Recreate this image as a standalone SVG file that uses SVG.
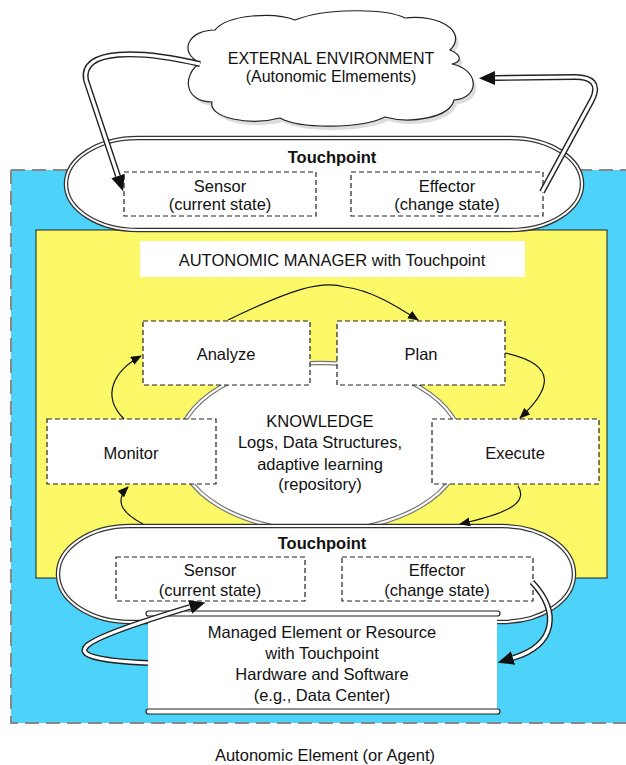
<svg xmlns="http://www.w3.org/2000/svg" width="626" height="765" viewBox="0 0 626 765">
<style>
text{font-family:"Liberation Sans",Arial,sans-serif;font-size:16.5px;fill:#111;text-anchor:middle}
.b{font-weight:bold}
.c{font-size:16px}
.dash{fill:#fff;stroke:#222;stroke-width:1.2;stroke-dasharray:5 3}
.outerL{fill:#fff;stroke:#333;stroke-width:4.5}
.innerL{fill:none;stroke:#fff;stroke-width:2}
.outerK{fill:#fff;stroke:#777;stroke-width:4.5}
.pipeO{fill:none;stroke:#222;stroke-width:6}
.pipeI{fill:none;stroke:#fff;stroke-width:3.2}
.thin{fill:none;stroke:#111;stroke-width:1.2}
.bar{fill:#fff;stroke:#222;stroke-width:1.2}
</style>
<defs>
<marker id="big" markerUnits="userSpaceOnUse" markerWidth="16" markerHeight="14" refX="0" refY="7" orient="auto"><path d="M0,0 L16,7 L0,14 z" fill="#111"/></marker>
<marker id="sm" markerUnits="userSpaceOnUse" markerWidth="11" markerHeight="9" refX="10" refY="4.5" orient="auto"><path d="M0,0 L11,4.5 L0,9 z" fill="#111"/></marker>
<path id="cloudShape" d="M200,63 C178,52 188,30 215,30 C228,14 275,12 295,20 C325,8 385,8 405,18 C440,14 468,32 450,50 C462,55 462,62 452,64 C480,70 480,98 454,100 C450,118 410,124 385,117 C360,129 300,129 280,118 C250,126 208,118 212,102 C184,102 182,75 200,63 Z"/>
</defs>

<g id="background">
<rect x="11" y="170" width="630" height="553" fill="#4dd3fa"/>
<path d="M11,170 H640 M11,170 V723 H640" fill="none" stroke="#888" stroke-width="2" stroke-dasharray="14 7"/>
</g>

<g id="autonomic-manager">
<rect x="36" y="230" width="571" height="348" fill="#fbf968" stroke="#222" stroke-width="1"/>
<rect x="140" y="241" width="385" height="36" fill="#fff"/>
<text x="332" y="266">AUTONOMIC MANAGER with Touchpoint</text>
</g>

<g id="knowledge">
<ellipse cx="320" cy="447" rx="142" ry="84" class="outerK"/>
<ellipse cx="320" cy="447" rx="142" ry="84" class="innerL"/>
<text x="320" y="427">KNOWLEDGE</text>
<text x="320" y="448">Logs, Data Structures,</text>
<text x="320" y="470">adaptive learning</text>
<text x="320" y="490">(repository)</text>
</g>

<g id="analyze"><rect x="143" y="321" width="167" height="64" class="dash"/><text x="226" y="360">Analyze</text></g>
<g id="plan"><rect x="337" y="321" width="168" height="64" class="dash"/><text x="421" y="360">Plan</text></g>
<g id="monitor"><rect x="47" y="419" width="169" height="65" class="dash"/><text x="131" y="459">Monitor</text></g>
<g id="execute"><rect x="432" y="419" width="167" height="65" class="dash"/><text x="515" y="459">Execute</text></g>

<g id="cloud">
<use href="#cloudShape" fill="#bbb" opacity="0.5" transform="translate(3,4)"/>
<use href="#cloudShape" fill="#fff" stroke="#222" stroke-width="1.2"/>
<text class="c" x="331" y="64">EXTERNAL ENVIRONMENT</text>
<text class="c" x="331" y="82">(Autonomic Elmements)</text>
</g>

<g id="touchpoint-top">
<rect x="66" y="138" width="516" height="92" rx="72" ry="46" class="outerL"/>
<rect x="66" y="138" width="516" height="92" rx="72" ry="46" class="innerL"/>
<text class="b" x="332" y="163">Touchpoint</text>
</g>
<g id="sensor-top"><rect x="124" y="172" width="192" height="44" class="dash"/><text x="220" y="192">Sensor</text><text x="220" y="210">(current state)</text></g>
<g id="effector-top"><rect x="351" y="172" width="192" height="44" class="dash"/><text x="447" y="192">Effector</text><text x="447" y="210">(change state)</text></g>

<g id="touchpoint-bottom">
<rect x="58" y="526" width="516" height="96" rx="72" ry="48" class="outerL"/>
<rect x="58" y="526" width="516" height="96" rx="72" ry="48" class="innerL"/>
<text class="b" x="322" y="549">Touchpoint</text>
</g>
<g id="sensor-bottom"><rect x="116" y="557" width="189" height="44" class="dash"/><text x="210" y="576">Sensor</text><text x="210" y="596">(current state)</text></g>
<g id="effector-bottom"><rect x="342" y="557" width="191" height="44" class="dash"/><text x="437" y="576">Effector</text><text x="437" y="596">(change state)</text></g>

<g id="managed-element">
<rect x="148" y="614" width="349" height="97" fill="#fff"/>
<rect x="146" y="611" width="354" height="5" rx="2.5" class="bar"/>
<rect x="146" y="709" width="354" height="5" rx="2.5" class="bar"/>
<text x="322" y="638">Managed Element or Resource</text>
<text x="322" y="659">with Touchpoint</text>
<text x="322" y="680">Hardware and Software</text>
<text x="322" y="701">(e.g., Data Center)</text>
</g>

<g id="caption"><text x="325" y="761">Autonomic Element (or Agent)</text></g>

<g id="connectors">
<path class="pipeO" marker-end="url(#big)" d="M200,64 C140,50 80,48 86,80 L118,176"/>
<path class="pipeI" d="M200,64 C140,50 80,48 86,80 L118,176"/>
<path class="pipeO" marker-end="url(#big)" d="M542,192 L592,100 C600,84 592,77 575,77 L495,78"/>
<path class="pipeI" d="M542,192 L592,100 C600,84 592,77 575,77 L495,78"/>
<path class="pipeO" marker-end="url(#big)" d="M148,663 C40,658 80,640 190,607"/>
<path class="pipeI" d="M148,663 C40,658 80,640 190,607"/>
<path class="pipeO" marker-end="url(#big)" d="M532,582 C560,612 556,645 513,658"/>
<path class="pipeI" d="M532,582 C560,612 556,645 513,658"/>
<path class="thin" marker-end="url(#sm)" d="M228,320 C290,290 320,280 345,287 C370,290 395,305 418,320"/>
<path class="thin" marker-end="url(#sm)" d="M505,353 C560,365 550,390 520,418"/>
<path class="thin" marker-end="url(#sm)" d="M518,486 C530,505 500,515 460,524"/>
<path class="thin" marker-end="url(#sm)" d="M143,524 C120,512 115,500 128,487"/>
<path class="thin" marker-end="url(#sm)" d="M124,419 C100,395 115,370 141,356"/>
</g>
</svg>
